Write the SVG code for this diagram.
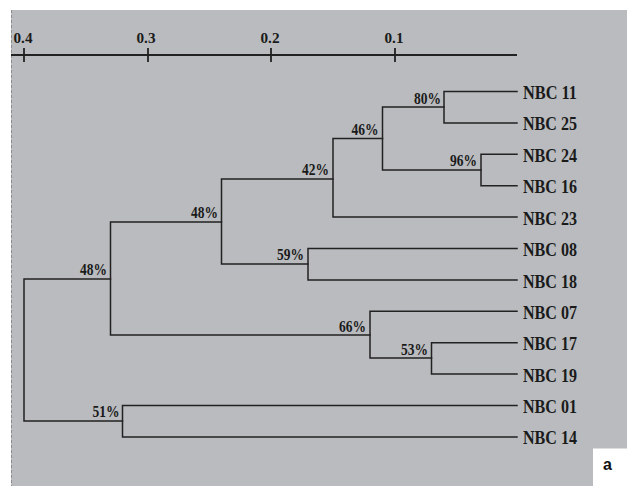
<svg xmlns="http://www.w3.org/2000/svg" width="627" height="486" viewBox="0 0 627 486">
<style>
.br{fill:none;stroke:#222222;stroke-width:1.5;stroke-linecap:square}
.ax{fill:none;stroke:#222222;stroke-width:1.8}
.pct{font-family:"Liberation Serif","Times New Roman",serif;font-weight:bold;font-size:16.5px;fill:#1a1a1a;text-anchor:end}
.lbl{font-family:"Liberation Serif","Times New Roman",serif;font-weight:bold;font-size:19px;fill:#1a1a1a}
.tk{font-family:"Liberation Serif","Times New Roman",serif;font-weight:bold;font-size:15px;fill:#1a1a1a;text-anchor:middle}
</style>
<rect x="0" y="0" width="627" height="486" fill="#ffffff"/>
<rect x="11" y="10" width="616" height="476" fill="#b9bbbe"/>
<line x1="11.5" y1="10" x2="11.5" y2="486" stroke="#8a8c8f" stroke-width="1" stroke-dasharray="3,2"/>
<g id="axis">
<line class="ax" x1="11" y1="55" x2="517" y2="55"/>
<line class="ax" x1="24" y1="48" x2="24" y2="62"/>
<line class="ax" x1="148" y1="48" x2="148" y2="62"/>
<line class="ax" x1="271" y1="48" x2="271" y2="62"/>
<line class="ax" x1="395" y1="48" x2="395" y2="62"/>
<text class="tk" x="23" y="43" textLength="19" lengthAdjust="spacingAndGlyphs">0.4</text>
<text class="tk" x="146" y="43" textLength="19" lengthAdjust="spacingAndGlyphs">0.3</text>
<text class="tk" x="270" y="43" textLength="19" lengthAdjust="spacingAndGlyphs">0.2</text>
<text class="tk" x="394" y="43" textLength="19" lengthAdjust="spacingAndGlyphs">0.1</text>
</g>
<g id="connectors">
<path class="br" d="M517,91.5 H444 V123 H517"/>
<path class="br" d="M517,154.3 H481 V185.7 H517"/>
<path class="br" d="M444,107 H382.5 V170 H481"/>
<path class="br" d="M382.5,138.5 H333 V217.1 H517"/>
<path class="br" d="M517,248.5 H308 V280 H517"/>
<path class="br" d="M333,179 H221.5 V264 H308"/>
<path class="br" d="M517,342.7 H431.5 V374 H517"/>
<path class="br" d="M517,311.3 H370 V358 H431.5"/>
<path class="br" d="M221.5,222 H110.5 V335 H370"/>
<path class="br" d="M517,405.5 H122.5 V437 H517"/>
<path class="br" d="M110.5,279 H24 V421 H122.5"/>
</g>
<g id="n80"><text class="pct" x="441" y="104" textLength="27" lengthAdjust="spacingAndGlyphs">80%</text></g>
<g id="n96"><text class="pct" x="477" y="166" textLength="27" lengthAdjust="spacingAndGlyphs">96%</text></g>
<g id="n46"><text class="pct" x="378.5" y="135" textLength="27" lengthAdjust="spacingAndGlyphs">46%</text></g>
<g id="n42"><text class="pct" x="329" y="174.5" textLength="27" lengthAdjust="spacingAndGlyphs">42%</text></g>
<g id="n59"><text class="pct" x="304" y="260" textLength="27" lengthAdjust="spacingAndGlyphs">59%</text></g>
<g id="n48a"><text class="pct" x="218" y="218" textLength="27" lengthAdjust="spacingAndGlyphs">48%</text></g>
<g id="n53"><text class="pct" x="428" y="355" textLength="27" lengthAdjust="spacingAndGlyphs">53%</text></g>
<g id="n66"><text class="pct" x="366" y="332" textLength="27" lengthAdjust="spacingAndGlyphs">66%</text></g>
<g id="n48b"><text class="pct" x="107" y="275" textLength="27" lengthAdjust="spacingAndGlyphs">48%</text></g>
<g id="n51"><text class="pct" x="119.5" y="417" textLength="27" lengthAdjust="spacingAndGlyphs">51%</text></g>
<g id="leaf11"><text class="lbl" x="523" y="98.5" textLength="54" lengthAdjust="spacingAndGlyphs">NBC 11</text></g>
<g id="leaf25"><text class="lbl" x="523" y="130" textLength="54" lengthAdjust="spacingAndGlyphs">NBC 25</text></g>
<g id="leaf24"><text class="lbl" x="523" y="161.5" textLength="54" lengthAdjust="spacingAndGlyphs">NBC 24</text></g>
<g id="leaf16"><text class="lbl" x="523" y="193" textLength="54" lengthAdjust="spacingAndGlyphs">NBC 16</text></g>
<g id="leaf23"><text class="lbl" x="523" y="224.5" textLength="54" lengthAdjust="spacingAndGlyphs">NBC 23</text></g>
<g id="leaf08"><text class="lbl" x="523" y="256" textLength="54" lengthAdjust="spacingAndGlyphs">NBC 08</text></g>
<g id="leaf18"><text class="lbl" x="523" y="287.5" textLength="54" lengthAdjust="spacingAndGlyphs">NBC 18</text></g>
<g id="leaf07"><text class="lbl" x="523" y="318.5" textLength="54" lengthAdjust="spacingAndGlyphs">NBC 07</text></g>
<g id="leaf17"><text class="lbl" x="523" y="350" textLength="54" lengthAdjust="spacingAndGlyphs">NBC 17</text></g>
<g id="leaf19"><text class="lbl" x="523" y="381.5" textLength="54" lengthAdjust="spacingAndGlyphs">NBC 19</text></g>
<g id="leaf01"><text class="lbl" x="523" y="412.5" textLength="54" lengthAdjust="spacingAndGlyphs">NBC 01</text></g>
<g id="leaf14"><text class="lbl" x="523" y="444" textLength="54" lengthAdjust="spacingAndGlyphs">NBC 14</text></g>
<g id="panel">
<rect x="593" y="448.5" width="34" height="37.5" fill="#ffffff"/>
<text x="603" y="470" font-family="'Liberation Sans',Arial,sans-serif" font-weight="bold" font-size="16" fill="#111">a</text>
</g>
</svg>
